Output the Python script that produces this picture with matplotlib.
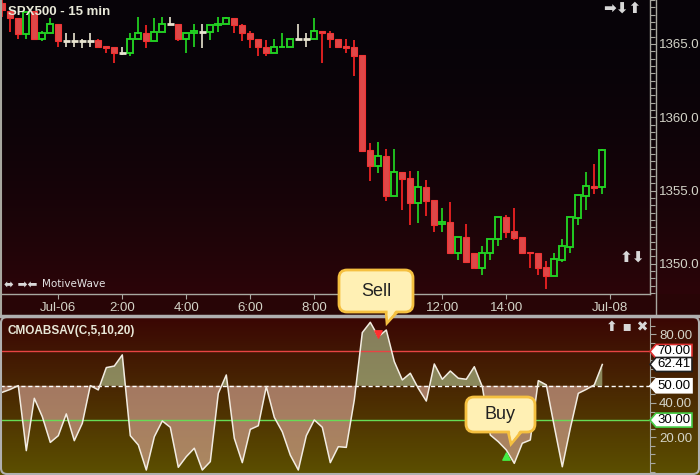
import numpy as np
import matplotlib
matplotlib.use('Agg')
import matplotlib.pyplot as plt
from matplotlib.patches import FancyBboxPatch, Polygon
from matplotlib.ticker import MultipleLocator, FormatStrFormatter

plt.rcParams['font.family'] = ['Liberation Sans', 'DejaVu Sans']

title = 'SPX500 - 15 min'
ind_title = 'CMOABSAV(C,5,10,20)'

# 15 min bars, Jul-05 22:15 .. Jul-06 17:00
opens = [1367.80, 1367.25, 1366.77, 1365.68, 1367.25, 1365.34, 1365.75, 1366.37, 1365.20, 1365.20,
         1365.20, 1365.20, 1365.27, 1364.86, 1364.80, 1364.39, 1364.39, 1365.34, 1365.75, 1365.20,
         1365.82, 1366.37, 1366.37, 1365.34, 1365.75, 1365.82, 1365.82, 1366.30, 1366.37, 1366.77,
         1366.30, 1365.75, 1365.34, 1364.80, 1364.39, 1364.78, 1364.80, 1365.34, 1365.34, 1365.34,
         1365.89, 1365.75, 1365.34, 1364.86, 1364.80, 1364.25, 1357.76, 1356.67, 1357.35, 1354.62,
         1356.26, 1355.85, 1354.15, 1355.24, 1354.35, 1352.71, 1352.85, 1350.73, 1351.83, 1350.73,
         1349.71, 1350.73, 1351.69, 1353.19, 1352.24, 1351.83, 1350.80, 1350.73, 1349.78, 1349.16,
         1350.26, 1351.14, 1353.12, 1354.62, 1355.31, 1355.24]
highs = [1368.00, 1367.25, 1366.77, 1367.18, 1367.25, 1365.89, 1366.77, 1366.37, 1365.75, 1365.75,
         1365.34, 1365.75, 1365.34, 1364.86, 1364.80, 1364.80, 1365.75, 1366.84, 1366.30, 1366.77,
         1366.84, 1366.84, 1366.37, 1365.75, 1366.37, 1366.37, 1366.30, 1366.84, 1366.84, 1366.77,
         1366.37, 1365.89, 1365.34, 1365.27, 1365.34, 1365.75, 1365.34, 1366.37, 1365.75, 1366.77,
         1365.89, 1365.89, 1365.34, 1365.34, 1365.27, 1364.25, 1358.24, 1358.31, 1357.83, 1357.83,
         1356.26, 1356.33, 1356.33, 1355.72, 1354.35, 1353.81, 1354.22, 1351.83, 1352.71, 1350.73,
         1351.21, 1351.69, 1353.19, 1353.33, 1353.81, 1351.83, 1350.80, 1350.73, 1350.19, 1350.73,
         1351.69, 1353.19, 1354.69, 1356.26, 1356.81, 1357.83]
lows = [1366.84, 1365.82, 1365.34, 1365.34, 1365.34, 1365.20, 1365.75, 1364.80, 1364.80, 1364.80,
        1364.73, 1364.80, 1364.73, 1364.39, 1363.70, 1364.25, 1364.18, 1365.34, 1364.73, 1365.20,
        1365.82, 1366.37, 1365.20, 1364.39, 1364.80, 1364.73, 1365.27, 1365.82, 1366.37, 1365.75,
        1365.20, 1364.73, 1364.18, 1364.18, 1364.39, 1364.78, 1364.80, 1365.34, 1364.80, 1365.34,
        1363.70, 1364.73, 1364.80, 1364.39, 1362.82, 1357.70, 1355.65, 1356.19, 1354.28, 1354.62,
        1353.67, 1352.65, 1352.78, 1353.26, 1352.17, 1352.17, 1350.73, 1350.26, 1350.12, 1349.64,
        1349.23, 1350.26, 1351.21, 1351.76, 1351.62, 1350.73, 1349.71, 1349.23, 1348.28, 1349.16,
        1350.12, 1350.73, 1352.65, 1353.67, 1354.76, 1354.76]
closes = [1367.32, 1366.77, 1365.68, 1367.18, 1365.34, 1365.75, 1366.37, 1365.20, 1365.20, 1365.20,
          1365.20, 1365.20, 1364.80, 1364.73, 1364.39, 1364.39, 1365.34, 1365.75, 1365.20, 1365.82,
          1366.37, 1366.37, 1365.34, 1365.75, 1365.89, 1365.82, 1366.30, 1366.37, 1366.77, 1366.30,
          1365.75, 1365.34, 1364.80, 1364.39, 1364.80, 1364.80, 1365.34, 1365.34, 1365.34, 1365.89,
          1365.75, 1365.34, 1364.80, 1364.73, 1364.18, 1357.70, 1356.67, 1357.35, 1354.62, 1356.26,
          1355.78, 1354.15, 1355.24, 1354.28, 1352.65, 1352.85, 1350.73, 1351.83, 1350.12, 1349.71,
          1350.73, 1351.69, 1353.19, 1352.17, 1351.76, 1350.73, 1350.73, 1349.71, 1349.16, 1350.32,
          1351.21, 1353.19, 1354.69, 1355.31, 1355.17, 1357.76]

cmo = [46.2, 47.9, 50.1, 12.2, 42.7, 32.0, 17.0, 20.9, 33.6, 18.0,
       28.1, 50.1, 47.6, 60.6, 61.5, 68.0, 20.9, 15.5, 0.9, 20.3,
       29.5, 25.8, 2.5, 8.7, 13.6, 0.9, 5.8, 45.6, 56.3, 19.4,
       5.2, 24.6, 26.7, 49.5, 31.6, 23.2, 9.6, 0.9, 20.9, 30.1,
       25.8, 5.2, 14.5, 14.1, 41.7, 81.0, 87.0, 78.6, 82.5, 64.1,
       53.4, 57.3, 48.5, 41.1, 62.7, 53.8, 58.6, 54.4, 53.8, 61.1,
       49.5, 21.3, 17.4, 12.6, 4.8, 16.5, 18.4, 53.0, 50.5, 26.2,
       2.8, 25.2, 45.6, 47.9, 50.5, 62.41]

time_ticks = [7, 15, 23, 31, 39, 47, 55, 63, 76]
time_labels = ['Jul-06', '2:00', '4:00', '6:00', '8:00', '10:00', '12:00', '14:00', 'Jul-08']
price_ticks = [1350.0, 1355.0, 1360.0, 1365.0]
cmo_ticks = [20, 40, 80]
sell_bar, buy_bar = 47, 63

W, H = 700, 475
fig = plt.figure(figsize=(7, 4.75), dpi=100)


def box(l, t, r, b):
    return [l / W, 1 - b / H, (r - l) / W, (b - t) / H]


# background gradient
grad = np.zeros((H, 1, 3))
for r in range(H):
    if r < 294:
        t = (r / 294) ** 2
        c = np.array([7, 3, 8]) + (np.array([44, 5, 8]) - np.array([7, 3, 8])) * t
    elif r < 317:
        c = np.array([40, 5, 6])
    else:
        t = (r - 317) / (H - 317)
        c = np.array([58, 6, 4]) + (np.array([92, 80, 0]) - np.array([58, 6, 4])) * t
    grad[r, 0] = c / 255
bg = fig.add_axes([0, 0, 1, 1], zorder=-10)
bg.imshow(grad, aspect='auto', extent=[0, W, H, 0])
bg.axis('off')

grey = '#a8a8a0'
lab = '#d4d4c8'
xlim = (-2.3 / 8, (650 - 2.3) / 8)

# price panel
ax1 = fig.add_axes(box(0, 0, 650, 294))
ax1.set_facecolor('none')
x = np.arange(len(opens))
o, h, l, c = map(np.array, (opens, highs, lows, closes))
up = c > o
dn = c < o
dj = c == o
top = np.maximum(o, c)
bot = np.minimum(o, c)

ax1.vlines(x[dn], top[dn], h[dn], color='#ff2424', lw=1.2)
ax1.vlines(x[dn], l[dn], bot[dn], color='#ff2424', lw=1.2)
ax1.vlines(x[up], top[up], h[up], color='#22dd22', lw=1.2)
ax1.vlines(x[up], l[up], bot[up], color='#22dd22', lw=1.2)
ax1.vlines(x[dj], l[dj], h[dj], color='#e8e4d0', lw=1.2)
ax1.bar(x[dn], top[dn] - bot[dn], 0.78, bottom=bot[dn], color='#de4848',
        edgecolor='#f03434', lw=0.8)
ax1.bar(x[up], top[up] - bot[up], 0.72, bottom=bot[up], facecolor='none',
        edgecolor='#22cc22', lw=1.4)
ax1.hlines(c[dj], x[dj] - 0.4, x[dj] + 0.4, color='#e8e4d0', lw=2)

ax1.set_xlim(*xlim)
ax1.set_ylim(1347.94, 1368.0)
ax1.yaxis.tick_right()
ax1.set_yticks(price_ticks)
ax1.yaxis.set_major_formatter(FormatStrFormatter('%.1f'))
ax1.yaxis.set_minor_locator(MultipleLocator(0.5))
ax1.tick_params(axis='y', which='major', direction='out', length=4.5, width=0.8,
                color=grey, labelcolor=lab, labelsize=9.5, pad=2)
ax1.tick_params(axis='y', which='minor', direction='out', length=3.6, width=0.8, color=grey)
ax1.set_xticks(time_ticks, time_labels)
ax1.tick_params(axis='x', direction='out', length=3.6, width=0.8, color=grey,
                labelcolor=lab, labelsize=9.5, pad=2)
ax1.spines['top'].set_visible(False)
for s in ('left', 'bottom', 'right'):
    ax1.spines[s].set_color(grey)
    ax1.spines[s].set_linewidth(1)

# indicator panel
ax2 = fig.add_axes(box(0, 318, 650, 475))
ax2.set_facecolor('none')
v = np.array(cmo)
ax2.fill_between(x, v, 50, where=v >= 50, interpolate=True, color='#b8cc98', alpha=0.6, lw=0)
ax2.fill_between(x, v, 50, where=v <= 50, interpolate=True, color='#e2b0a2', alpha=0.6, lw=0)
ax2.axhline(70, color='#e84444', lw=1)
ax2.axhline(30, color='#66dd55', lw=1)
ax2.axhline(50, color='white', lw=1, ls=(0, (3, 2)))
ax2.plot(x, v, color='#f2ece2', lw=1.1)
ax2.scatter([sell_bar], [v[sell_bar] + 1.5], marker='v', s=28, color='#ff3030', zorder=5)
ax2.scatter([buy_bar], [v[buy_bar] - 3.5], marker='^', s=28, color='#44ee44', zorder=5)
ax2.set_xlim(*xlim)
ax2.set_ylim(-2.0, 89.5)
ax2.set_xticks([])
ax2.yaxis.tick_right()
ax2.set_yticks(cmo_ticks)
ax2.yaxis.set_major_formatter(FormatStrFormatter('%.2f'))
ax2.yaxis.set_minor_locator(MultipleLocator(5))
ax2.tick_params(axis='y', which='major', direction='out', length=4.5, width=0.8,
                color=grey, labelcolor=lab, labelsize=9.5, pad=2)
ax2.tick_params(axis='y', which='minor', direction='out', length=3.6, width=0.8, color=grey)
for s in ('top', 'left', 'bottom'):
    ax2.spines[s].set_visible(False)
ax2.spines['right'].set_color(grey)

# overlay in pixel coordinates
ov = fig.add_axes([0, 0, 1, 1], zorder=5)
ov.set_xlim(0, W)
ov.set_ylim(H, 0)
ov.axis('off')
ov.patch.set_alpha(0)

ov.text(8, 12, title, fontsize=9.5, fontweight='bold', color='#e8e8d8', va='center')
ov.text(7, 331, ind_title, fontsize=8.5, fontweight='bold', color='#e8e8d8', va='center')

ov.plot([0.8, 0.8], [0, 316], color=grey, lw=1.5)
ov.plot([656, 656], [0, 316], color=grey, lw=1)
ov.plot([0, W], [316, 316], color='#b0b0b0', lw=2.5)
ov.add_patch(FancyBboxPatch((1, 317), W - 2, H - 318, boxstyle='round,pad=0,rounding_size=6',
                            fc='none', ec='#b0b0b0', lw=1.5))

icon = '#d8d8d8'
ov.text(603, 8, '\u27a1\u2b07\u2b06', fontsize=11, color=icon, va='center',
        family='DejaVu Sans', fontweight='bold')
ov.text(620, 257, '\u2b06\u2b07', fontsize=11, color=icon, va='center',
        family='DejaVu Sans', fontweight='bold')
ov.text(4, 284, '\u2b0c \u27a1\u2b05', fontsize=8.5, color=icon, va='center', family='DejaVu Sans')
ov.text(42, 284, 'MotiveWave', fontsize=7.5, color='#e4e4e4', va='center', family='DejaVu Sans')
ov.text(606, 327, '\u2b06 \u25aa \u2716', fontsize=10, color=icon, va='center',
        family='DejaVu Sans', fontweight='bold')

# value tags on the indicator axis
tags = [(70, '#e03030', '70.00'), (v[-1], '#202020', f'{v[-1]:.2f}'),
        (50, '#ffffff', '50.00'), (30, '#44cc44', '30.00')]
for val, ec, txt in tags:
    yy = H - ax2.transData.transform((0, val))[1]
    ov.add_patch(Polygon([(650, yy), (656, yy - 7), (692, yy - 7), (692, yy + 7),
                          (656, yy + 7)], closed=True, fc='white', ec=ec, lw=1.2))
    ov.text(674, yy, txt, fontsize=9.5, color='black', ha='center', va='center')


# callouts
def callout(l, t, r, b, tip, base, txt):
    ov.add_patch(Polygon([(base[0], b - 1), (tip[0], tip[1]), (base[1], b - 1)], closed=True,
                         fc='#fff0b4', ec='#f5c040', lw=2, zorder=3))
    ov.add_patch(FancyBboxPatch((l, t), r - l, b - t, boxstyle='round,pad=0,rounding_size=8',
                                fc='#fff0b4', ec='#f5c040', lw=2, zorder=4))
    ov.add_patch(Polygon([(base[0] + 1.5, b - 2.5), (tip[0] + 1, tip[1] - 3),
                          (base[1] - 1.5, b - 2.5)], closed=True, fc='#fff0b4', ec='none',
                         zorder=5))
    ov.text((l + r) / 2, (t + b) / 2, txt, fontsize=13, color='#222222', ha='center',
            va='center', zorder=6)


callout(339, 270, 413, 312, (387, 323), (386, 398), 'Sell')
callout(466, 397, 535, 432, (511, 444), (508, 522), 'Buy')

fig.savefig('out.png', dpi=100)
